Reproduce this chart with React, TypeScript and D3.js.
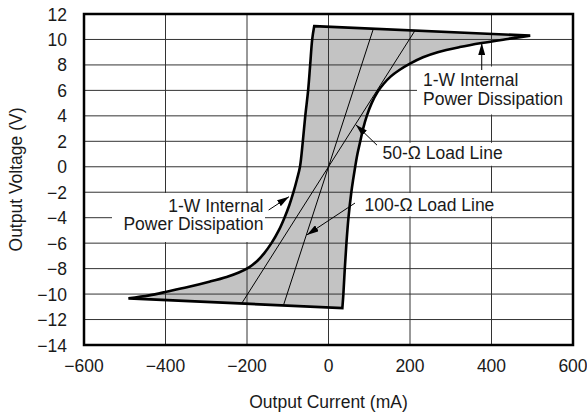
import React, { useEffect, useRef } from "react";
import * as d3 from "d3";

// Output current (mA) / output voltage (V)
const upperEdge = [
  { i: -35, v: 11.05 },
  { i: 495, v: 10.3 },
];
const rightCurve = [
  { i: 495, v: 10.3 },
  { i: 440, v: 10.04 },
  { i: 376, v: 9.72 },
  { i: 322, v: 9.4 },
  { i: 268, v: 9.0 },
  { i: 232, v: 8.6 },
  { i: 200, v: 8.1 },
  { i: 174, v: 7.6 },
  { i: 153, v: 7.1 },
  { i: 135, v: 6.5 },
  { i: 121, v: 5.9 },
  { i: 106, v: 5.0 },
  { i: 94, v: 4.0 },
  { i: 85, v: 3.0 },
  { i: 78, v: 2.0 },
  { i: 71, v: 1.0 },
  { i: 65.5, v: 0 },
  { i: 60.5, v: -1.0 },
  { i: 56, v: -2.0 },
  { i: 49, v: -4.0 },
  { i: 44, v: -6.0 },
  { i: 40, v: -8.0 },
  { i: 36.5, v: -10.0 },
  { i: 34, v: -11.1 },
];
const lowerEdge = [
  { i: 34, v: -11.1 },
  { i: -491, v: -10.34 },
];
const leftCurve = [
  { i: -491, v: -10.34 },
  { i: -440, v: -10.1 },
  { i: -395, v: -9.8 },
  { i: -345, v: -9.45 },
  { i: -295, v: -9.05 },
  { i: -250, v: -8.65 },
  { i: -220, v: -8.3 },
  { i: -195, v: -7.9 },
  { i: -175, v: -7.4 },
  { i: -158, v: -6.8 },
  { i: -140, v: -6.0 },
  { i: -122, v: -5.0 },
  { i: -108, v: -4.0 },
  { i: -96, v: -3.0 },
  { i: -86, v: -2.0 },
  { i: -77.5, v: -1.0 },
  { i: -70, v: 0 },
  { i: -63, v: 2.0 },
  { i: -57, v: 4.0 },
  { i: -50, v: 6.0 },
  { i: -45, v: 8.0 },
  { i: -40, v: 10.0 },
  { i: -35, v: 11.05 },
];
const loadLine50 = [
  { i: -250, v: -12.6 },
  { i: 250, v: 12.6 },
];
const loadLine100 = [
  { i: -130, v: -12.8 },
  { i: 130, v: 12.8 },
];
const xTicks = [-600, -400, -200, 0, 200, 400, 600];
const yTicks = [-14, -12, -10, -8, -6, -4, -2, 0, 2, 4, 6, 8, 10, 12];

type Pt = { i: number; v: number };

const App: React.FC = () => {
  const svgRef = useRef<SVGSVGElement | null>(null);
  const W = 587;
  const H = 417;
  const plot = { left: 84, right: 573, top: 14, bottom: 345 };
  const font = "'Liberation Sans', Arial, Helvetica, sans-serif";
  const fs = 17.5;
  const ink = "#1a1a1a";

  useEffect(() => {
    if (!svgRef.current) return;
    const svg = d3.select(svgRef.current);
    svg.selectAll("*").remove();

    const x = d3.scaleLinear().domain([-600, 600]).range([plot.left, plot.right]);
    const y = d3.scaleLinear().domain([-14, 12]).range([plot.bottom, plot.top]);

    const line = d3
      .line<Pt>()
      .x((d) => x(d.i))
      .y((d) => y(d.v));
    const smooth = d3
      .line<Pt>()
      .x((d) => x(d.i))
      .y((d) => y(d.v))
      .curve(d3.curveCatmullRom.alpha(0.5));

    // join the four boundary pieces into one closed outline
    const pieces = [line(upperEdge), smooth(rightCurve), line(lowerEdge), smooth(leftCurve)] as string[];
    const regionPath =
      pieces.map((p, k) => (k === 0 ? p : "L" + p.slice(1))).join("") + "Z";

    const defs = svg.append("defs");
    defs.append("clipPath").attr("id", "region-clip").append("path").attr("d", regionPath);
    defs
      .append("marker")
      .attr("id", "arrow")
      .attr("markerUnits", "userSpaceOnUse")
      .attr("markerWidth", 12)
      .attr("markerHeight", 7)
      .attr("refX", 12)
      .attr("refY", 3.5)
      .attr("orient", "auto")
      .append("path")
      .attr("d", "M0,0 L12,3.5 L0,7 Z")
      .attr("fill", "#000");

    svg.append("rect").attr("width", W).attr("height", H).attr("fill", "#fff");

    // shaded operating region
    svg.append("path").attr("d", regionPath).attr("fill", "#c3c3c3");

    // grid
    const grid = svg.append("g").attr("stroke", "#333").attr("stroke-width", 1);
    xTicks.slice(1, -1).forEach((t) => {
      grid.append("line").attr("x1", x(t)).attr("x2", x(t)).attr("y1", plot.top).attr("y2", plot.bottom);
    });
    yTicks.slice(1, -1).forEach((t) => {
      grid.append("line").attr("x1", plot.left).attr("x2", plot.right).attr("y1", y(t)).attr("y2", y(t));
    });

    // white boxes behind annotations
    const boxes = [
      [417, 66.5, 156, 48],
      [378, 142.8, 195, 23],
      [358, 193, 215, 23.5],
      [112, 193, 153, 49],
    ];
    boxes.forEach(([bx, by, bw, bh]) => {
      svg.append("rect").attr("x", bx).attr("y", by).attr("width", bw).attr("height", bh).attr("fill", "#fff");
    });

    // load lines
    const loads = svg.append("g").attr("clip-path", "url(#region-clip)");
    [loadLine50, loadLine100].forEach((ll) => {
      loads.append("path").attr("d", line(ll)).attr("fill", "none").attr("stroke", "#000").attr("stroke-width", 1);
    });

    // region outline
    svg
      .append("path")
      .attr("d", regionPath)
      .attr("fill", "none")
      .attr("stroke", "#000")
      .attr("stroke-width", 2.6)
      .attr("stroke-linejoin", "miter");

    // frame
    svg
      .append("rect")
      .attr("x", plot.left)
      .attr("y", plot.top)
      .attr("width", plot.right - plot.left)
      .attr("height", plot.bottom - plot.top)
      .attr("fill", "none")
      .attr("stroke", "#000")
      .attr("stroke-width", 2.5);

    // tick labels
    const fmt = (d: number) => (d < 0 ? `\u2212${Math.abs(d)}` : `${d}`);
    svg
      .append("g")
      .selectAll("text")
      .data(xTicks)
      .enter()
      .append("text")
      .attr("x", (d) => x(d))
      .attr("y", plot.bottom + 27)
      .attr("text-anchor", "middle")
      .text(fmt);
    svg
      .append("g")
      .selectAll("text")
      .data(yTicks)
      .enter()
      .append("text")
      .attr("x", plot.left - 17)
      .attr("y", (d) => y(d) + 6.5)
      .attr("text-anchor", "end")
      .text(fmt);

    // axis titles
    svg
      .append("text")
      .attr("x", (plot.left + plot.right) / 2)
      .attr("y", 408)
      .attr("text-anchor", "middle")
      .text("Output Current (mA)");
    svg
      .append("text")
      .attr("transform", `translate(21.5,${(plot.top + plot.bottom) / 2}) rotate(-90)`)
      .attr("text-anchor", "middle")
      .text("Output Voltage (V)");

    // annotations
    const arrows = [
      { from: { i: 376, v: 7.6 }, to: { i: 376, v: 9.72 } },
      { from: { i: 119, v: 1.7 }, to: { i: 67, v: 3.3 } },
      { from: { i: 65, v: -2.85 }, to: { i: -53, v: -5.35 } },
      { from: { i: -147, v: -3.4 }, to: { i: -97, v: -2.35 } },
    ];
    arrows.forEach((a) => {
      svg
        .append("line")
        .attr("x1", x(a.from.i))
        .attr("y1", y(a.from.v))
        .attr("x2", x(a.to.i))
        .attr("y2", y(a.to.v))
        .attr("stroke", "#000")
        .attr("stroke-width", 1)
        .attr("marker-end", "url(#arrow)");
    });

    const labels = [
      { lines: ["1-W Internal", "Power Dissipation"], x: 423, y: 86, anchor: "start" },
      { lines: ["50-\u03A9 Load Line"], x: 382.5, y: 158.5, anchor: "start" },
      { lines: ["100-\u03A9 Load Line"], x: 364.5, y: 211, anchor: "start" },
      { lines: ["1-W Internal", "Power Dissipation"], x: 263.5, y: 211.5, anchor: "end" },
    ];
    labels.forEach((l) => {
      l.lines.forEach((s, k) => {
        svg
          .append("text")
          .attr("x", l.x)
          .attr("y", l.y + k * 18.5)
          .attr("text-anchor", l.anchor)
          .text(s);
      });
    });

    svg.selectAll("text").attr("font-family", font).attr("font-size", fs).attr("fill", ink);
  }, []);

  return (
    <svg
      ref={svgRef}
      width={W}
      height={H}
      style={{ position: "absolute", left: 0, top: 0 }}
    ></svg>
  );
};

export default App;
